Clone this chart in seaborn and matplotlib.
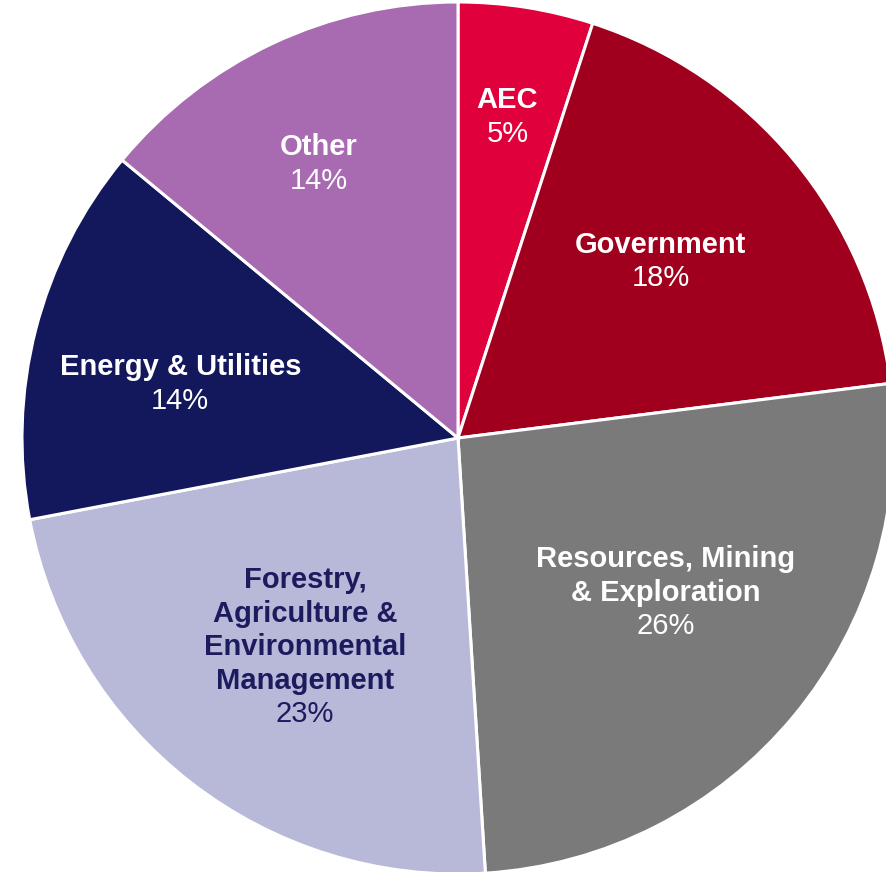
import numpy as np
import matplotlib
matplotlib.use("Agg")
import matplotlib.pyplot as plt
import seaborn as sns

# Sector shares (percent), clockwise from 12 o'clock
sectors = ["AEC", "Government", "Resources, Mining\n& Exploration",
           "Forestry,\nAgriculture &\nEnvironmental\nManagement",
           "Energy & Utilities", "Other"]
shares = [5, 18, 26, 23, 14, 14]

colors = sns.color_palette(["#E0003C", "#A0001E", "#7A7A7A",
                            "#B8B8D8", "#13175C", "#A86AB0"])
text_colors = ["white", "white", "white", "#1B1B5E", "white", "white"]

# radial distance / angular nudge of each label within its wedge
label_r = [0.75, 0.62, 0.59, 0.59, 0.65, 0.71]
label_dang = [0.3, 1.9, 3.3, 1.3, 2.9, 1.5]

sns.set_theme(style="white")
plt.rcParams["font.family"] = ["Liberation Sans", "DejaVu Sans"]

W, H = 887, 872
fig = plt.figure(figsize=(W / 100, H / 100), dpi=100)
ax = fig.add_axes([0, 0, 1, 1])

R_PX = 436.0
cx, cy = 458.0, 438.0  # pie centre in pixels from top-left

wedges, _ = ax.pie(shares, colors=colors, startangle=90, counterclock=False,
                   radius=1.0, center=(0, 0),
                   wedgeprops=dict(edgecolor="white", linewidth=2.2))

ax.set_xlim(-cx / R_PX, (W - cx) / R_PX)
ax.set_ylim(-(H - cy) / R_PX, cy / R_PX)
ax.set_aspect("auto")
ax.axis("off")

fs = 21
line_h = 24.2  # points between lines
cap = fs * 0.716

total = float(sum(shares))
start = 90.0
for name, val, tc, r, da in zip(sectors, shares, text_colors, label_r, label_dang):
    span = 360.0 * val / total
    mid = start - span / 2.0
    start -= span
    ang = np.deg2rad(mid + da)
    x, y = r * np.cos(ang), r * np.sin(ang)
    lines = name.split("\n") + [f"{val}%"]
    n = len(lines)
    for i, ln in enumerate(lines):
        off = ((n - 1) / 2.0 - i) * line_h - cap / 2.0
        ax.annotate(ln, xy=(x, y), xytext=(0, off), textcoords="offset points",
                    ha="center", va="baseline", fontsize=fs, color=tc,
                    fontweight="bold" if i < n - 1 else "normal")

fig.savefig("out.png", dpi=100, facecolor="white")
